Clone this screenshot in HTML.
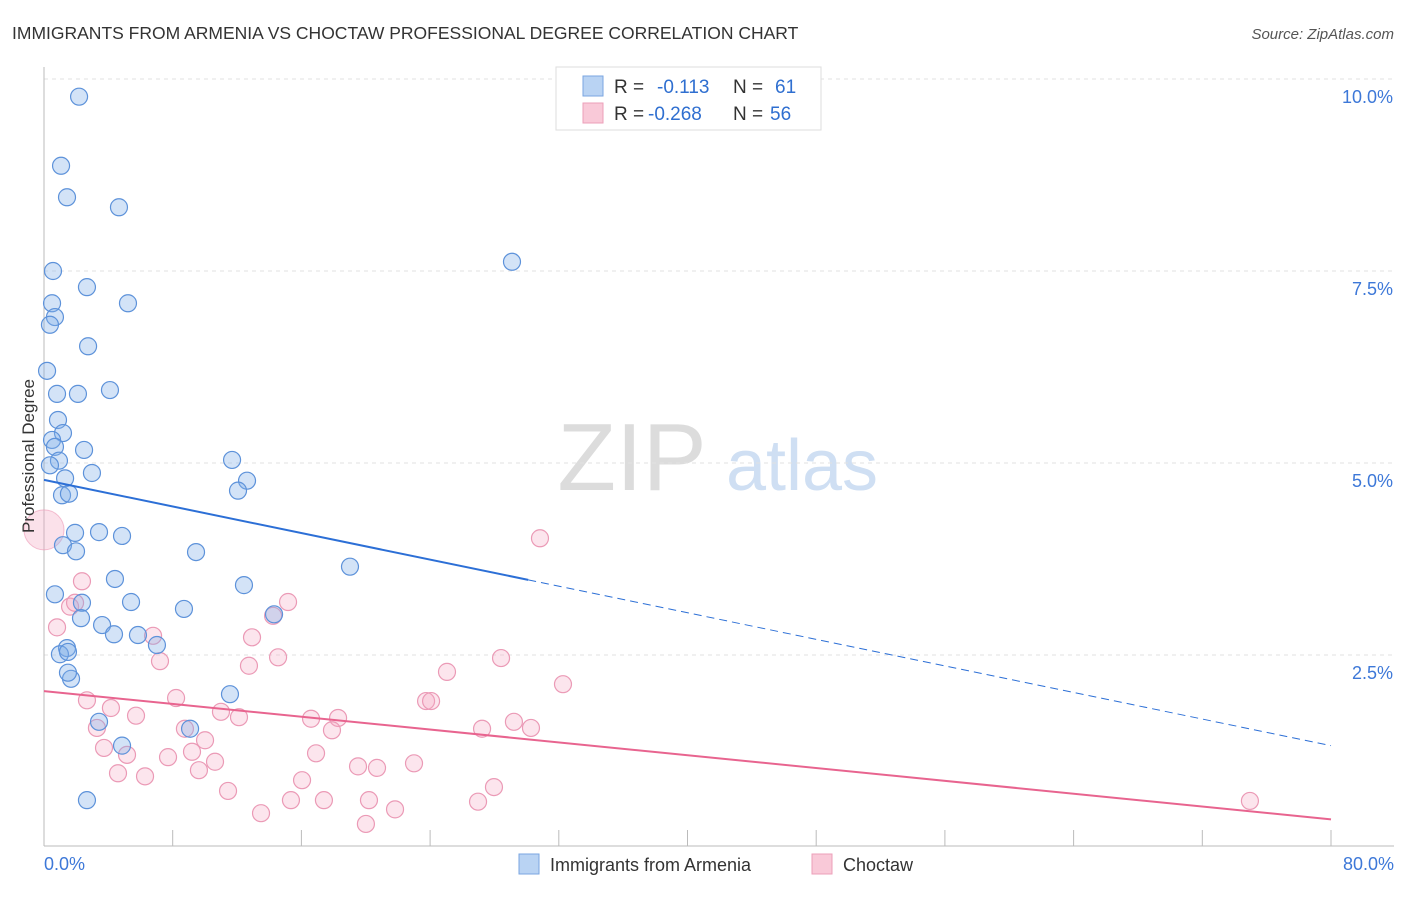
<!DOCTYPE html>
<html><head><meta charset="utf-8"><style>
body{margin:0;background:#fff;font-family:"Liberation Sans",sans-serif;}
svg text{font-family:"Liberation Sans",sans-serif;}
</style></head><body>
<svg id="chart" width="1406" height="892" xmlns="http://www.w3.org/2000/svg">
<text x="12" y="39" font-size="17.5" fill="#333">IMMIGRANTS FROM ARMENIA VS CHOCTAW PROFESSIONAL DEGREE CORRELATION CHART</text>
<text x="1394" y="39" font-size="15" fill="#555" font-style="italic" text-anchor="end">Source: ZipAtlas.com</text>
<g>
<text x="632" y="490" font-size="96" fill="#dcdcdc" font-family="Liberation Serif,serif" text-anchor="middle">ZIP</text>
<text x="802" y="490" font-size="72" fill="#cfdff3" text-anchor="middle">atlas</text>
</g>
<g id="grid"></g>
<g id="axes"></g>
<g id="marks"></g>
<text transform="translate(34,456) rotate(-90)" font-size="17" fill="#333" text-anchor="middle">Professional Degree</text>
<g>
<rect x="556" y="67" width="265" height="63" fill="#fff" stroke="#ddd"/>
<rect x="583" y="76" width="20" height="20" fill="#b9d3f3" stroke="#7aa6e0"/>
<rect x="583" y="103" width="20" height="20" fill="#f9c9d8" stroke="#ec9fb9"/>
<text x="614" y="93" font-size="19" fill="#333">R = </text><text x="657" y="93" font-size="19" fill="#2f6fd0">-0.113</text>
<text x="733" y="93" font-size="19" fill="#333">N = </text><text x="775" y="93" font-size="19" fill="#2f6fd0">61</text>
<text x="614" y="120" font-size="19" fill="#333">R = </text><text x="648" y="120" font-size="19" fill="#2f6fd0">-0.268</text>
<text x="733" y="120" font-size="19" fill="#333">N = </text><text x="770" y="120" font-size="19" fill="#2f6fd0">56</text>
</g>
<g>
<rect x="519" y="854" width="20" height="20" fill="#b9d3f3" stroke="#7aa6e0"/>
<text x="550" y="871" font-size="18" fill="#333">Immigrants from Armenia</text>
<rect x="812" y="854" width="20" height="20" fill="#f9c9d8" stroke="#ec9fb9"/>
<text x="843" y="871" font-size="18" fill="#333">Choctaw</text>
</g>
</svg>
<script>
const yTicks=[2.5,5.0,7.5,10.0];
const yTickLabels=["2.5%","5.0%","7.5%","10.0%"];
const xTickLabels=["0.0%","80.0%"];
const blueX=[2.18,1.06,1.43,4.66,0.56,2.67,0.50,5.22,0.68,0.37,2.74,0.19,0.81,2.11,4.10,0.87,1.18,0.50,0.68,2.49,0.93,0.37,2.98,11.69,1.31,12.62,1.12,1.55,12.06,3.42,1.93,4.85,1.18,1.99,9.45,19.02,4.41,12.43,0.68,2.36,5.41,8.70,14.30,2.30,3.61,4.35,5.84,7.02,1.43,0.99,1.49,1.68,1.49,11.56,3.42,9.08,4.85,2.67,29.09];
const blueY=[9.77,8.87,8.46,8.33,7.50,7.29,7.08,7.08,6.90,6.80,6.52,6.20,5.90,5.90,5.95,5.56,5.39,5.30,5.21,5.17,5.03,4.97,4.87,5.04,4.80,4.77,4.58,4.60,4.64,4.10,4.09,4.05,3.93,3.85,3.84,3.65,3.49,3.41,3.29,3.18,3.19,3.10,3.03,2.98,2.89,2.77,2.76,2.63,2.59,2.51,2.54,2.19,2.27,1.99,1.63,1.54,1.32,0.61,7.62];
const pinkX=[2.36,1.62,1.93,0.81,6.78,14.24,15.17,7.21,12.93,12.74,14.55,30.83,25.05,28.41,32.26,2.67,8.21,4.16,5.72,11.00,12.12,16.60,18.28,23.75,24.06,27.23,29.21,30.27,3.29,8.76,10.01,3.73,5.16,9.20,17.90,16.91,7.71,10.63,19.52,20.70,23.00,4.60,6.28,9.63,16.04,11.44,27.97,15.35,17.40,20.20,26.98,13.49,21.82,20.01,74.96];
const pinkY=[3.46,3.13,3.18,2.86,2.75,3.01,3.19,2.42,2.73,2.36,2.47,4.02,2.28,2.46,2.12,1.91,1.94,1.81,1.71,1.76,1.69,1.67,1.68,1.90,1.90,1.54,1.63,1.55,1.55,1.54,1.39,1.29,1.20,1.24,1.52,1.22,1.17,1.11,1.05,1.03,1.09,0.96,0.92,1.00,0.87,0.73,0.78,0.61,0.61,0.61,0.59,0.44,0.49,0.30,0.60];
const bigPink=[0.0,4.13];
const blueTrend=[4.78,1.32];
const blueSolidEnd=30.1;
const pinkTrend=[2.03,0.36];
const NS="http://www.w3.org/2000/svg";
function sx(v){return 44+v/80*1287;}
function sy(v){return 847-v*76.8;}
function mk(tag,attrs,parent){const e=document.createElementNS(NS,tag);for(const k in attrs)e.setAttribute(k,attrs[k]);parent.appendChild(e);return e;}
const grid=document.getElementById('grid'),axes=document.getElementById('axes'),marks=document.getElementById('marks');
yTicks.forEach((t,i)=>{
 const l=mk('line',{x1:44,x2:1394,y1:sy(t),y2:sy(t),stroke:'#e2e2e2','stroke-dasharray':'4,4'},grid);
 
 
 const tx=mk('text',{x:1393,y:sy(t)+24,'font-size':18,fill:'#3d78d8','text-anchor':'end'},grid);
 tx.textContent=yTickLabels[i];
 
 
});
const ya=mk('line',{x1:44,x2:44,y1:67,y2:846,stroke:'#bbb'},axes);


const xa=mk('line',{x1:44,x2:1394,y1:846,y2:846,stroke:'#bbb'},axes);


for(let i=0;i<=10;i++){const t=mk('line',{x1:sx(i*8),x2:sx(i*8),y1:830,y2:846,stroke:'#bbb'},axes);
 
 }
[[0,'start',44],[80,'end',1394]].forEach((d,i)=>{const tx=mk('text',{x:d[2],y:870,'font-size':18,fill:'#3d78d8','text-anchor':d[1]},axes);tx.textContent=xTickLabels[i];
 
 });
const big=mk('circle',{cx:sx(bigPink[0]),cy:sy(bigPink[1]),r:20,fill:'rgba(244,170,196,0.35)',stroke:'rgba(236,150,180,0.6)'},marks);


pinkX.forEach((x,i)=>{const c=mk('circle',{cx:sx(x),cy:sy(pinkY[i]),r:8.5,fill:'rgba(244,170,196,0.3)',stroke:'#eb9ab6','stroke-width':1.2},marks);
 
 });
blueX.forEach((x,i)=>{const c=mk('circle',{cx:sx(x),cy:sy(blueY[i]),r:8.5,fill:'rgba(130,175,232,0.35)',stroke:'#5d92da','stroke-width':1.2},marks);
 
 });
function ly(tr,x){return tr[0]+(tr[1]-tr[0])*x/80;}
const bs=mk('line',{x1:sx(0),y1:sy(blueTrend[0]),x2:sx(blueSolidEnd),y2:sy(ly(blueTrend,blueSolidEnd)),stroke:'#2c6fd6','stroke-width':2},marks);


const bd=mk('line',{x1:sx(blueSolidEnd),y1:sy(ly(blueTrend,blueSolidEnd)),x2:sx(80),y2:sy(blueTrend[1]),stroke:'#2c6fd6','stroke-width':1,'stroke-dasharray':'8,5'},marks);


const pl=mk('line',{x1:sx(0),y1:sy(pinkTrend[0]),x2:sx(80),y2:sy(pinkTrend[1]),stroke:'#e8648f','stroke-width':2},marks);


</script>
</body></html>
